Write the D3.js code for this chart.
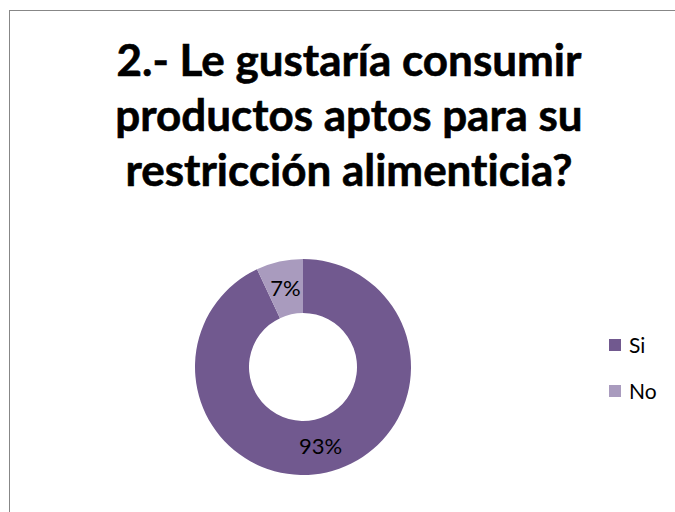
<!DOCTYPE html>
<html>
<head>
<meta charset="utf-8">
<script src="https://cdn.jsdelivr.net/npm/d3@7"></script>
<style>
  html, body { margin: 0; padding: 0; background: #fff; }
  svg { display: block; }
  text { font-variant-ligatures: none; font-feature-settings: "liga" 0, "clig" 0; }
</style>
</head>
<body>
<svg id="chart" width="675" height="512"></svg>
<script>
// Survey answers and their shares
const categories = ["Si", "No"];
const values = [93, 7];
const labels = ["93%", "7%"];
const colors = ["#71598F", "#A99BBE"];
const titleLines = ["2.- Le gustaría consumir", "productos aptos para su", "restricción alimenticia?"];

const svg = d3.select("#chart");
const FONT = "Lato, 'Open Sans', 'Noto Sans', sans-serif";

// Chart frame (right and bottom edges run past the canvas)
svg.append("rect")
  .attr("x", 9.5).attr("y", 10.5)
  .attr("width", 700).attr("height", 600)
  .attr("fill", "#fff")
  .attr("stroke", "#878787")
  .attr("stroke-width", 1);

// Title, three bold centered lines
const title = svg.append("g");
const baselines = [76, 131, 186];
titleLines.forEach((t, i) => {
  title.append("text")
    .attr("x", 349).attr("y", baselines[i])
    .attr("text-anchor", "middle")
    .attr("font-family", FONT)
    .attr("font-weight", "bold")
    .attr("font-size", 44)
    .attr("fill", "#000")
    .attr("stroke", "#000")
    .attr("stroke-width", 0.6)
    .text(t);
});
// Fit the first line to its intended width and apply the same size to all lines
const firstW = title.select("text").node().getComputedTextLength();
const titleSize = 44 * 465 / firstW;
title.selectAll("text").attr("font-size", titleSize);

// Donut
const cx = 303, cy = 367, outerR = 108, innerR = 54;
const pie = d3.pie().sort(null).value(d => d.value);
const arcs = pie(categories.map((c, i) => ({ cat: c, value: values[i], label: labels[i], color: colors[i] })));
const arc = d3.arc().innerRadius(innerR).outerRadius(outerR);

const g = svg.append("g").attr("transform", `translate(${cx},${cy})`);
g.selectAll("path").data(arcs).join("path")
  .attr("d", arc)
  .attr("fill", d => d.data.color);

g.selectAll("text.lbl").data(arcs).join("text")
  .attr("class", "lbl")
  .attr("transform", d => { const [x, y] = arc.centroid(d); return `translate(${x},${y})`; })
  .attr("text-anchor", "middle")
  .attr("dy", "0.36em")
  .attr("font-family", FONT)
  .attr("font-size", 22)
  .attr("fill", "#000")
  .text(d => d.data.label);

// Legend
const legend = svg.append("g").attr("transform", "translate(609,339)");
const item = legend.selectAll("g").data(categories).join("g")
  .attr("transform", (d, i) => `translate(0,${i * 46})`);
item.append("rect")
  .attr("width", 12).attr("height", 12)
  .attr("fill", (d, i) => colors[i]);
item.append("text")
  .attr("x", 20).attr("y", 6)
  .attr("dy", "0.36em")
  .attr("font-family", FONT)
  .attr("font-size", 21)
  .attr("fill", "#000")
  .text(d => d);
</script>
</body>
</html>
